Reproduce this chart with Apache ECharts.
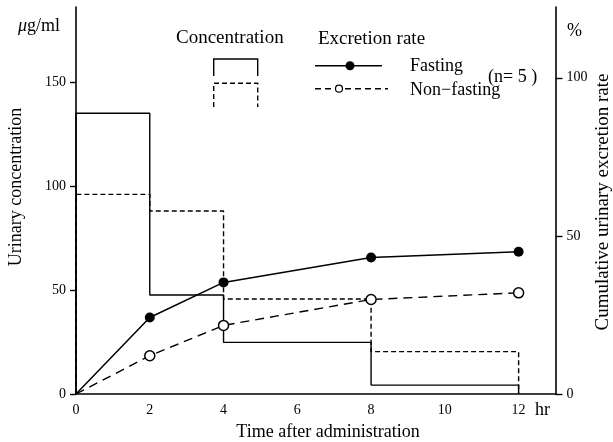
<!DOCTYPE html>
<html>
<head>
<meta charset="utf-8">
<script src="https://cdn.jsdelivr.net/npm/echarts@6/dist/echarts.min.js"></script>
<style>
  html, body { margin: 0; padding: 0; background: #fff; }
  #chart { width: 613px; height: 442px; }
</style>
</head>
<body>
<div id="chart"></div>
<script>
// Collection periods (hr) — boundaries of each urine sampling interval
const hours = [0, 2, 4, 8, 12];
// Mean urinary concentration per interval (μg/ml)
const concFasting = [135.3, 47.7, 24.9, 4.3];
const concNonFasting = [96.2, 88.2, 45.8, 20.4];
// Cumulative urinary excretion rate at each time point (%)
const excFasting = [0, 24.2, 35.3, 43.2, 45.0];
const excNonFasting = [0, 12.1, 21.7, 29.9, 32.0];
// Tick labels
const timeTicks = [0, 2, 4, 6, 8, 10, 12];
const concTicks = [0, 50, 100, 150];
const excTicks = [0, 50, 100];

const FONT = '"Liberation Serif", "DejaVu Serif", serif';
const INK = '#000';

// Turn per-interval levels into the outline of a step histogram
function stepOutline(levels) {
  const pts = [[hours[0], 0]];
  levels.forEach(function (v, i) {
    pts.push([hours[i], v]);
    pts.push([hours[i + 1], v]);
  });
  pts.push([hours[hours.length - 1], 0]);
  return pts;
}

// Cumulative points; the origin has no marker
function cumulative(values) {
  return hours.map(function (h, i) {
    const item = { value: [h, values[i]] };
    if (i === 0) item.symbol = 'none';
    return item;
  });
}

function label(text, x, y, opts) {
  opts = opts || {};
  return {
    type: 'text',
    x: x, y: y,
    rotation: opts.rotation || 0,
    z: 10,
    style: {
      text: text,
      x: 0, y: 0,
      font: (opts.size || 18) + 'px ' + FONT,
      fill: INK,
      align: opts.align || 'left',
      verticalAlign: 'middle',
      rich: opts.rich
    }
  };
}

const chart = echarts.init(document.getElementById('chart'), null, { renderer: 'canvas' });

const axisLine = { show: true, lineStyle: { color: INK, width: 1.6 } };
const tickFont = { color: INK, fontFamily: FONT, fontSize: 14 };

chart.setOption({
  animation: false,
  backgroundColor: '#fff',
  grid: { left: 76, right: 57.5, top: 7, bottom: 48 },
  xAxis: {
    type: 'value',
    min: 0, max: 13,
    axisLine: axisLine,
    axisTick: { show: false },
    splitLine: { show: false },
    axisLabel: Object.assign({ customValues: timeTicks, margin: 9 }, tickFont)
  },
  yAxis: [
    {
      type: 'value',
      position: 'left',
      min: 0, max: 186.5,
      axisLine: axisLine,
      splitLine: { show: false },
      axisTick: { show: true, customValues: concTicks, length: 6, lineStyle: { color: INK, width: 1.4 } },
      axisLabel: Object.assign({ customValues: concTicks, margin: 10 }, tickFont)
    },
    {
      type: 'value',
      position: 'right',
      min: 0, max: 122.4,
      axisLine: axisLine,
      splitLine: { show: false },
      axisTick: { show: true, customValues: excTicks, length: 7, lineStyle: { color: INK, width: 1.4 } },
      axisLabel: Object.assign({ customValues: excTicks, margin: 11 }, tickFont)
    }
  ],
  series: [
    {
      name: 'Concentration fasting',
      type: 'line',
      yAxisIndex: 0,
      data: stepOutline(concFasting),
      symbol: 'none',
      lineStyle: { color: INK, width: 1.4, type: 'solid' },
      z: 2
    },
    {
      name: 'Concentration non-fasting',
      type: 'line',
      yAxisIndex: 0,
      data: stepOutline(concNonFasting),
      symbol: 'none',
      lineStyle: { color: INK, width: 1.4, type: [5, 3] },
      z: 2
    },
    {
      name: 'Fasting',
      type: 'line',
      yAxisIndex: 1,
      data: cumulative(excFasting),
      symbol: 'circle',
      symbolSize: 10,
      itemStyle: { color: INK },
      lineStyle: { color: INK, width: 1.5, type: 'solid' },
      z: 3
    },
    {
      name: 'Non-fasting',
      type: 'line',
      yAxisIndex: 1,
      data: cumulative(excNonFasting),
      symbol: 'circle',
      symbolSize: 10,
      itemStyle: { color: '#fff', borderColor: INK, borderWidth: 1.5 },
      lineStyle: { color: INK, width: 1.4, type: [9, 6] },
      z: 3
    }
  ],
  graphic: [
    // units and axis titles
    label('{mu|μ}g/ml', 18, 26, { rich: { mu: { fontStyle: 'italic', font: 'italic 18px ' + FONT, fill: INK } } }),
    label('%', 567, 31),
    label('hr', 535, 410),
    label('Time after administration', 328, 432, { align: 'center' }),
    label('Urinary concentration', 16, 187, { align: 'center', rotation: Math.PI / 2 }),
    label('Cumulative urinary excretion rate', 603, 202, { align: 'center', rotation: Math.PI / 2, size: 19 }),
    // key: concentration histograms
    label('Concentration', 176, 38, { size: 19 }),
    {
      type: 'polyline', z: 10,
      shape: { points: [[213.7, 76], [213.7, 59], [257.7, 59], [257.7, 76]] },
      style: { stroke: INK, lineWidth: 1.4, fill: null }
    },
    {
      type: 'polyline', z: 10,
      shape: { points: [[213.7, 107], [213.7, 83.3], [257.7, 83.3], [257.7, 107]] },
      style: { stroke: INK, lineWidth: 1.4, fill: null, lineDash: [5, 3] }
    },
    // key: cumulative excretion lines
    label('Excretion rate', 318, 39, { size: 19 }),
    {
      type: 'line', z: 10,
      shape: { x1: 315, y1: 65.7, x2: 382, y2: 65.7 },
      style: { stroke: INK, lineWidth: 1.4 }
    },
    {
      type: 'circle', z: 11,
      shape: { cx: 350, cy: 65.7, r: 4.5 },
      style: { fill: INK }
    },
    {
      type: 'line', z: 10,
      shape: { x1: 315, y1: 88.7, x2: 388, y2: 88.7 },
      style: { stroke: INK, lineWidth: 1.4, lineDash: [6, 4] }
    },
    {
      type: 'circle', z: 11,
      shape: { cx: 339, cy: 88.7, r: 3.5 },
      style: { fill: '#fff', stroke: INK, lineWidth: 1.2 }
    },
    label('Fasting', 410, 66),
    label('Non−fasting', 410, 90),
    label('(n= 5 )', 488, 77)
  ]
});
</script>
</body>
</html>
